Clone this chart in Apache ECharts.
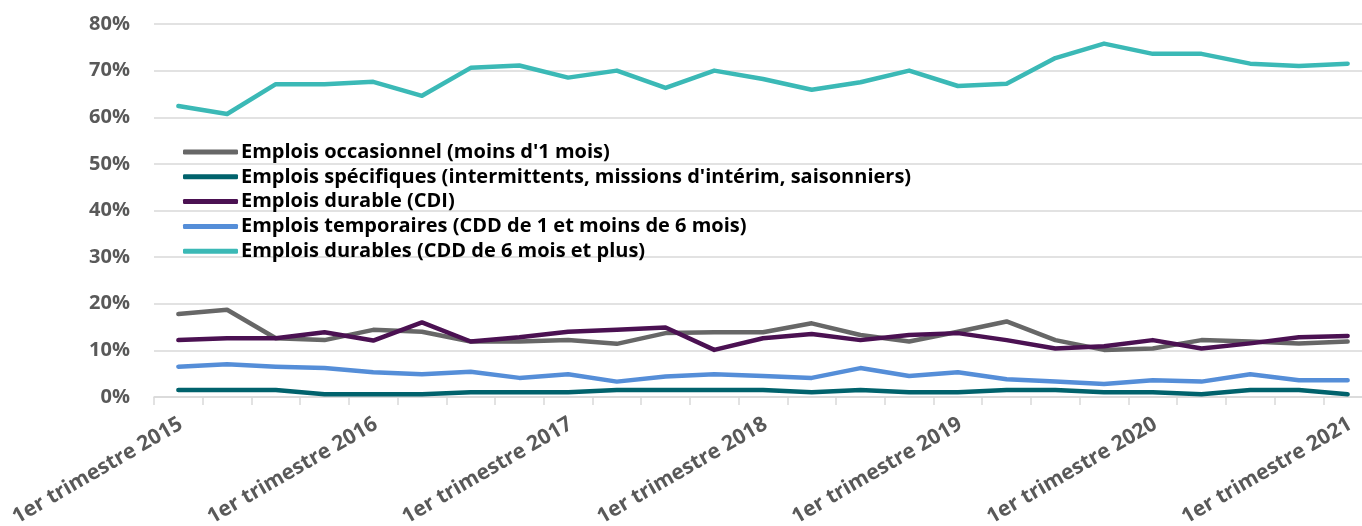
<!DOCTYPE html>
<html>
<head>
<meta charset="utf-8">
<script src="https://cdn.jsdelivr.net/npm/echarts@6/dist/echarts.min.js"></script>
<style>
  html, body { margin: 0; padding: 0; background: #fff; }
  #main { width: 1362px; height: 526px; }
</style>
</head>
<body>
<div id="main"></div>
<script>
// trimestres, du 1er trimestre 2015 au 1er trimestre 2021
var categories = [
  '1er trimestre 2015', '2e trimestre 2015', '3e trimestre 2015', '4e trimestre 2015',
  '1er trimestre 2016', '2e trimestre 2016', '3e trimestre 2016', '4e trimestre 2016',
  '1er trimestre 2017', '2e trimestre 2017', '3e trimestre 2017', '4e trimestre 2017',
  '1er trimestre 2018', '2e trimestre 2018', '3e trimestre 2018', '4e trimestre 2018',
  '1er trimestre 2019', '2e trimestre 2019', '3e trimestre 2019', '4e trimestre 2019',
  '1er trimestre 2020', '2e trimestre 2020', '3e trimestre 2020', '4e trimestre 2020',
  '1er trimestre 2021'
];

// parts en %
var occasionnel = [17.8, 18.7, 12.6, 12.2, 14.4, 14.0, 11.9, 11.9, 12.2, 11.4, 13.7, 13.9, 13.9,
  15.8, 13.3, 11.9, 14.0, 16.2, 12.2, 10.1, 10.4, 12.2, 11.9, 11.5, 11.9];
var specifiques = [1.5, 1.5, 1.5, 0.6, 0.6, 0.6, 1.0, 1.0, 1.0, 1.5, 1.5, 1.5, 1.5,
  1.0, 1.5, 1.0, 1.0, 1.5, 1.5, 1.0, 1.0, 0.6, 1.5, 1.5, 0.6];
var cdi = [12.2, 12.6, 12.6, 13.9, 12.1, 16.0, 11.9, 12.8, 14.0, 14.4, 14.9, 10.1, 12.6,
  13.5, 12.2, 13.3, 13.7, 12.2, 10.4, 10.9, 12.2, 10.4, 11.5, 12.8, 13.1];
var temporaires = [6.5, 7.0, 6.5, 6.2, 5.3, 4.9, 5.4, 4.1, 4.9, 3.3, 4.4, 4.9, 4.5,
  4.1, 6.2, 4.5, 5.3, 3.8, 3.3, 2.8, 3.6, 3.3, 4.9, 3.6, 3.6];
var cdd6 = [62.4, 60.7, 67.1, 67.1, 67.6, 64.6, 70.6, 71.1, 68.5, 70.0, 66.3, 70.0, 68.2,
  65.9, 67.5, 70.0, 66.7, 67.2, 72.7, 75.8, 73.6, 73.6, 71.5, 71.0, 71.5];

var names = [
  "Emplois occasionnel (moins d'1 mois)",
  "Emplois spécifiques (intermittents, missions d'intérim, saisonniers)",
  'Emplois durable (CDI)',
  'Emplois temporaires (CDD de 1 et moins de 6 mois)',
  'Emplois durables (CDD de 6 mois et plus)'
];
var colors = ['#676767', '#00626c', '#4b1152', '#558ed8', '#3bb9b6'];
var values = [occasionnel, specifiques, cdi, temporaires, cdd6];

var font = '"Open Sans", Lato, sans-serif';

var series = names.map(function (n, i) {
  return {
    name: n,
    type: 'line',
    data: values[i],
    symbol: 'none',
    color: colors[i],
    lineStyle: { width: 4.5, cap: 'round', join: 'round' }
  };
});

var myChart = echarts.init(document.getElementById('main'));
myChart.setOption({
  animation: false,
  color: colors,
  grid: { left: 154, right: -10, top: 24, bottom: 129, outerBoundsMode: 'none', containLabel: false },
  legend: {
    orient: 'vertical',
    left: 183,
    top: 142,
    padding: 0,
    itemWidth: 55,
    itemHeight: 5,
    itemGap: 4.8,
    icon: 'roundRect',
    textStyle: { color: '#000', fontWeight: 'bold', fontSize: 20, fontFamily: font, lineHeight: 20, padding: [0, 0, 0, -2] },
    data: names
  },
  xAxis: {
    type: 'category',
    data: categories,
    boundaryGap: true,
    axisLine: { lineStyle: { color: '#d9d9d9', width: 1.5 } },
    axisTick: { show: true, interval: 0, length: 8, lineStyle: { color: '#d9d9d9', width: 1.5 } },
    axisLabel: {
      interval: 3,
      rotate: 30,
      margin: 27,
      padding: [0, -3, 0, 0],
      color: '#595959',
      fontWeight: 'bold',
      fontSize: 21,
      fontFamily: font
    }
  },
  yAxis: {
    type: 'value',
    min: 0,
    max: 80,
    interval: 10,
    axisLine: { show: false },
    axisTick: { show: false },
    splitLine: { lineStyle: { color: '#d9d9d9', width: 1.5 } },
    axisLabel: {
      formatter: '{value}%',
      margin: 24,
      color: '#595959',
      fontWeight: 'bold',
      fontSize: 20,
      fontFamily: font
    }
  },
  series: series
});
</script>
</body>
</html>
